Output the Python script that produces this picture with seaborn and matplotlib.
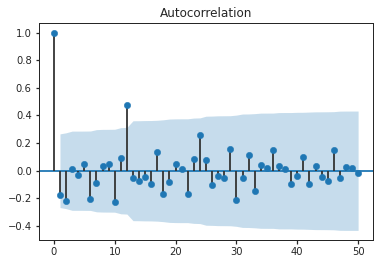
import numpy as np
import pandas as pd
import matplotlib
matplotlib.use("Agg")
import matplotlib.pyplot as plt
import seaborn as sns

# Autocorrelation values, lags 0..50
lags = list(range(51))
acf_values = [
    1.000, -0.173, -0.219, 0.012, -0.029, 0.048, -0.202, -0.087, 0.036, 0.050,
    -0.224, 0.094, 0.476, -0.050, -0.074, -0.043, -0.094, 0.135, -0.168, -0.082,
    0.048, 0.012, -0.168, 0.084, 0.257, 0.077, -0.103, -0.038, -0.053, 0.156,
    -0.212, -0.053, 0.113, -0.147, 0.041, 0.019, 0.149, 0.034, 0.012, -0.096,
    -0.038, 0.099, -0.096, 0.034, -0.046, -0.075, 0.149, -0.053, 0.026, 0.022,
    -0.017,
]
n_obs = 54          # series length implied by the band width
z_crit = 1.96       # 95% confidence

acf = np.array(acf_values)
lag_arr = np.array(lags)

# Bartlett standard errors (as statsmodels plot_acf computes them)
var = np.zeros(len(acf))
var[1] = 1.0 / n_obs
var[2:] = (1 + 2 * np.cumsum(acf[1:-1] ** 2)) / n_obs
half = z_crit * np.sqrt(var)

df = pd.DataFrame({"lag": lag_arr, "acf": acf})

sns.set_theme(style="ticks", rc={
    "xtick.major.size": 3.5, "ytick.major.size": 3.5,
    "axes.edgecolor": "#262626", "font.size": 10,
})
plt.rcParams["font.family"] = ["DejaVu Sans"]

fig = plt.figure(figsize=(383 / 72, 264 / 72), dpi=72)
ax = fig.add_axes([0.101, 0.0898, 0.8737, 0.8242])

ax.fill_between(lag_arr[1:], -half[1:], half[1:], color="#1f77b4", alpha=0.25,
                linewidth=0)
ax.axhline(0, color="#1f77b4", lw=1.8, zorder=1)
ax.vlines(lag_arr, 0, acf, colors="#333333", lw=1.8, zorder=2)
sns.scatterplot(data=df, x="lag", y="acf", ax=ax, color="#1f77b4", s=40,
                edgecolor="#1f77b4", linewidth=0.5, zorder=3, legend=False)

ax.set_xlim(-2.5, 52.5)
ax.set_xticks([0, 10, 20, 30, 40, 50])
ax.set_yticks([-0.4, -0.2, 0.0, 0.2, 0.4, 0.6, 0.8, 1.0])
ax.set_xlabel("")
ax.set_ylabel("")
ax.set_title("Autocorrelation", fontsize=12)
for s in ax.spines.values():
    s.set_visible(True)
    s.set_linewidth(1.0)
ax.tick_params(labelsize=10)

fig.savefig("out.png", dpi=72)
